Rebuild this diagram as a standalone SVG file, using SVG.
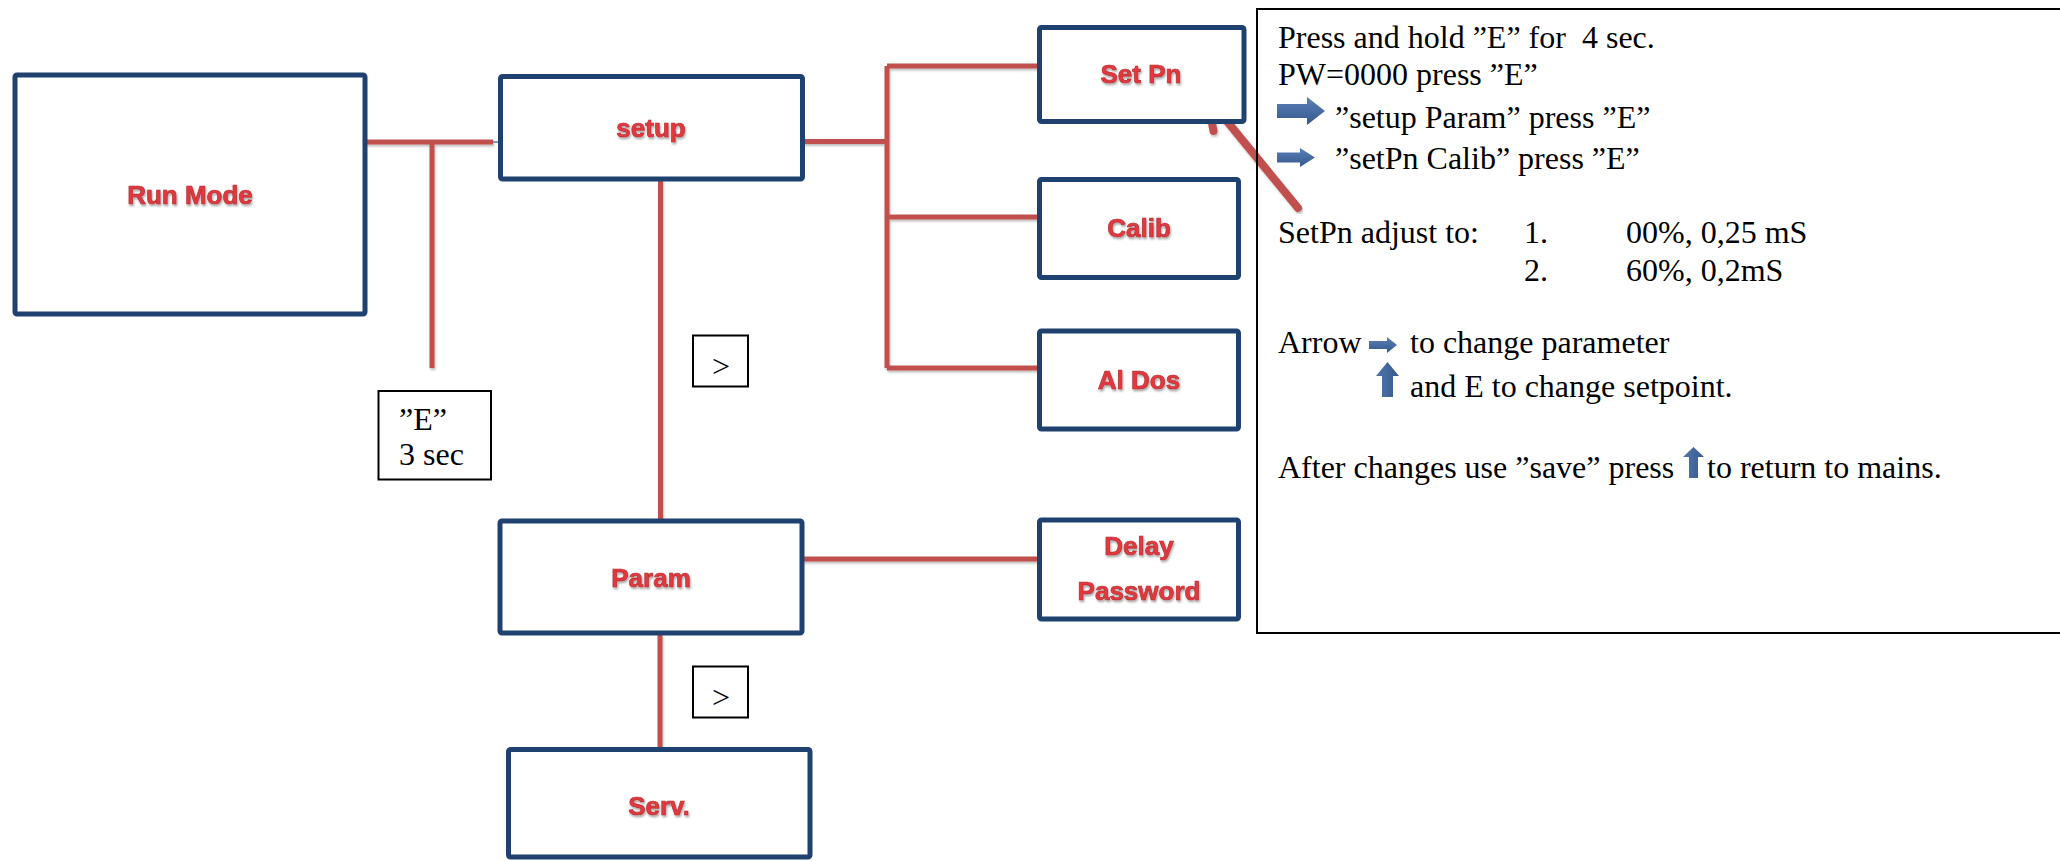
<svg xmlns="http://www.w3.org/2000/svg" width="2060" height="861" viewBox="0 0 2060 861">
<defs>
<filter id="sh" x="-20%" y="-40%" width="140%" height="180%">
<feDropShadow dx="1" dy="2" stdDeviation="1.2" flood-color="#000" flood-opacity="0.35"/>
</filter>
<filter id="lsh" x="-5%" y="-5%" width="110%" height="110%">
<feDropShadow dx="1" dy="2" stdDeviation="1.2" flood-color="#000" flood-opacity="0.25"/>
</filter>
<linearGradient id="bl" x1="0" y1="0" x2="0" y2="1">
<stop offset="0" stop-color="#5a80b8"/>
<stop offset="1" stop-color="#35598c"/>
</linearGradient>
<linearGradient id="bu" x1="0" y1="0" x2="1" y2="0">
<stop offset="0" stop-color="#4f77ad"/>
<stop offset="1" stop-color="#35598c"/>
</linearGradient>
<style>
.box{fill:#fff;stroke:#1f4170;stroke-width:5;}
.lbl{font-family:"Liberation Sans",Arial,sans-serif;font-weight:bold;font-size:26px;fill:#e2393f;stroke:#b82f33;stroke-width:0.7;text-anchor:middle;filter:url(#sh);}
.con{stroke:#c0504d;stroke-width:5;fill:none;}
.txt{font-family:"Liberation Serif","Times New Roman",serif;font-size:32px;fill:#000;}
.tb{fill:#fff;stroke:#000;stroke-width:2;}
</style>
</defs>
<rect width="2060" height="861" fill="#fff"/>

<g id="connectors">
<g filter="url(#lsh)">
<path class="con" d="M366 142 H493"/>
<path class="con" d="M432 142 V368"/>
<path class="con" d="M795 141.5 H887"/>
<path class="con" d="M887 66 V368 M887 66 H1038 M887 217 H1038 M887 368 H1040"/>
<path class="con" d="M660.5 180 V519"/>
<path class="con" d="M795 559 H1040"/>
<path class="con" d="M660 635 V747"/>
</g>
<path d="M357 142 H366 M493 142 H507" stroke="#4f81bd" stroke-width="1.5"/>
<g id="pointer" filter="url(#lsh)">
<path d="M1298 208 L1208 98" stroke="#c0504d" stroke-width="8" stroke-linecap="round" fill="none"/>
<path d="M1239 111 L1207 97 L1213.5 131" stroke="#c0504d" stroke-width="8" stroke-linecap="round" stroke-linejoin="round" fill="none"/>
</g>
</g>

<g id="run-mode">
<rect class="box" x="15" y="75" width="350" height="239" rx="2"/>
<text class="lbl" x="190" y="204">Run Mode</text>
</g>
<g id="setup">
<rect class="box" x="500.5" y="76.5" width="302" height="102.5" rx="2"/>
<text class="lbl" x="651" y="137">setup</text>
</g>
<g id="set-pn">
<rect class="box" x="1039.5" y="27.5" width="204.5" height="94" rx="2"/>
<text class="lbl" x="1141" y="83">Set Pn</text>
</g>
<g id="calib">
<rect class="box" x="1039.5" y="179.5" width="199" height="98" rx="2"/>
<text class="lbl" x="1139" y="237">Calib</text>
</g>
<g id="al-dos">
<rect class="box" x="1039.5" y="331" width="199" height="98" rx="2"/>
<text class="lbl" x="1139" y="389">Al Dos</text>
</g>
<g id="delay-password">
<rect class="box" x="1039.5" y="520" width="199" height="99" rx="2"/>
<text class="lbl" x="1139" y="555">Delay</text>
<text class="lbl" x="1139" y="600">Password</text>
</g>
<g id="param">
<rect class="box" x="500" y="521" width="302" height="112" rx="2"/>
<text class="lbl" x="651" y="587">Param</text>
</g>
<g id="serv">
<rect class="box" x="508.5" y="749.5" width="301.5" height="107.5" rx="2"/>
<text class="lbl" x="659" y="815">Serv.</text>
</g>

<g id="e-3sec">
<rect class="tb" x="378.5" y="391" width="112.5" height="88.5"/>
<text class="txt" x="399" y="430" font-size="28">”E”</text>
<text class="txt" x="399" y="465" font-size="28">3 sec</text>
</g>
<g id="gt-1">
<rect class="tb" x="693" y="335.5" width="55" height="51"/>
<text class="txt" x="721" y="377" font-size="30" text-anchor="middle">&gt;</text>
</g>
<g id="gt-2">
<rect class="tb" x="693" y="666.5" width="55" height="51"/>
<text class="txt" x="721" y="708" font-size="30" text-anchor="middle">&gt;</text>
</g>

<g id="info-panel">
<path d="M2062 9 H1257 V633 H2062" fill="none" stroke="#000" stroke-width="2"/>
<text class="txt" x="1278" y="47.5">Press and hold ”E” for&#160; 4 sec.</text>
<text class="txt" x="1278" y="85">PW=0000 press ”E”</text>
<path d="M1277 104 H1307 V97 L1325 111 L1307 125 V118 H1277 Z" fill="url(#bl)"/>
<text class="txt" x="1335" y="127.5">”setup Param” press ”E”</text>
<path d="M1277 152.5 H1300 V148 L1315 157.5 L1300 167 V162.5 H1277 Z" fill="url(#bl)"/>
<text class="txt" x="1335" y="169">”setPn Calib” press ”E”</text>
<text class="txt" x="1278" y="243">SetPn adjust to:</text>
<text class="txt" x="1524" y="243">1.</text>
<text class="txt" x="1626" y="243">00%, 0,25 mS</text>
<text class="txt" x="1524" y="281">2.</text>
<text class="txt" x="1626" y="281">60%, 0,2mS</text>
<text class="txt" x="1278" y="353">Arrow</text>
<path d="M1369 341 H1387 V337 L1397 345 L1387 353 V349 H1369 Z" fill="url(#bl)"/>
<text class="txt" x="1410" y="353">to change parameter</text>
<path d="M1382 397 V376 H1376 L1387.5 362 L1399 376 H1393 V397 Z" fill="url(#bu)"/>
<text class="txt" x="1410" y="396.5">and E to change setpoint.</text>
<text class="txt" x="1278" y="477.5">After changes use ”save” press</text>
<path d="M1689 478 V457 H1683 L1693.5 447 L1704 457 H1698 V478 Z" fill="url(#bu)"/>
<text class="txt" x="1707" y="477.5">to return to mains.</text>
</g>
</svg>
